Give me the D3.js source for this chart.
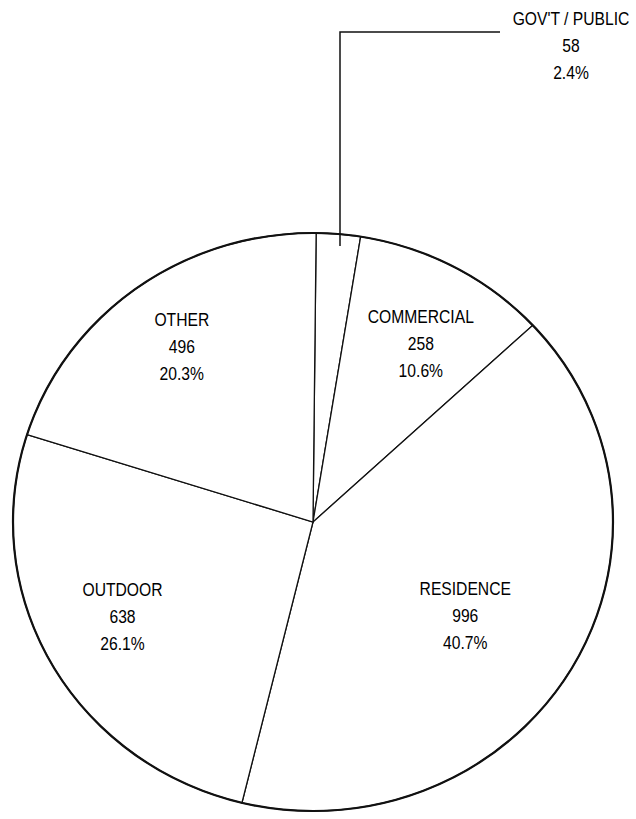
<!DOCTYPE html>
<html><head><meta charset="utf-8">
<script src="https://cdn.jsdelivr.net/npm/d3@7"></script>
<style>
html,body{margin:0;padding:0;background:#fff;}
text{font-family:"Liberation Sans",Arial,Helvetica,sans-serif;font-size:18px;fill:#000;}
</style></head>
<body>
<svg id="chart" width="636" height="819"></svg>
<script>
const categories = ["GOV'T / PUBLIC", "COMMERCIAL", "RESIDENCE", "OUTDOOR", "OTHER"];
const counts = [58, 258, 996, 638, 496];
const percents = ["2.4%", "10.6%", "40.7%", "26.1%", "20.3%"];

const W = 636, H = 819;
const cx = 313, cy = 522, R = 300, yScale = 289 / 300;
const startOffset = 0.6 * Math.PI / 180;
const condense = 0.87;

const svg = d3.select("#chart");
const data = categories.map((c, i) => ({name: c, value: counts[i], pct: percents[i]}));

const pie = d3.pie().value(d => d.value).sort(null)
  .startAngle(startOffset).endAngle(startOffset + 2 * Math.PI);
const arcs = pie(data);
const arc = d3.arc().innerRadius(0).outerRadius(R);

const g = svg.append("g").attr("transform", `translate(${cx},${cy}) scale(1,${yScale})`);
g.selectAll("path").data(arcs).join("path")
  .attr("d", arc)
  .attr("fill", "#fff")
  .attr("stroke", "#111")
  .attr("stroke-width", 1.3)
  .attr("vector-effect", "non-scaling-stroke");
g.append("circle").attr("r", R).attr("fill", "none")
  .attr("stroke", "#111").attr("stroke-width", 2.2)
  .attr("vector-effect", "non-scaling-stroke");

// label placement (layout): radius factor and offsets per slice
const labelLayout = [null, {r: 0.72, dx: 6, dy: 6}, {r: 0.60, dx: -3, dy: 6}, {r: 0.74, dx: 3, dy: -10}, {r: 0.78, dx: 6, dy: 8}];
const lineGap = 27;

function drawLabel(x, yTop, d) {
  const t = svg.append("text").attr("text-anchor", "middle")
    .attr("transform", `translate(${x},${yTop}) scale(${condense},1)`);
  [d.name, String(d.value), d.pct].forEach((s, i) => {
    t.append("tspan").attr("x", 0).attr("y", i * lineGap).text(s);
  });
}

arcs.forEach((a, i) => {
  const L = labelLayout[i];
  if (!L) return;
  const mid = (a.startAngle + a.endAngle) / 2;
  const x = cx + Math.sin(mid) * R * L.r + L.dx;
  const y = cy - Math.cos(mid) * R * yScale * L.r + L.dy;
  drawLabel(x, y - lineGap + 6, a.data);
});

// Gov't / public leader line
const gov = arcs[0];
const leaderX = 340, leaderTopY = 32, leaderEndX = 500;
const leaderBottomY = cy - R * yScale * 0.955;
svg.append("path")
  .attr("d", `M${leaderX},${leaderBottomY} L${leaderX},${leaderTopY} L${leaderEndX},${leaderTopY}`)
  .attr("fill", "none").attr("stroke", "#111").attr("stroke-width", 1.5);
drawLabel(571, 25, gov.data);
</script>
</body></html>
